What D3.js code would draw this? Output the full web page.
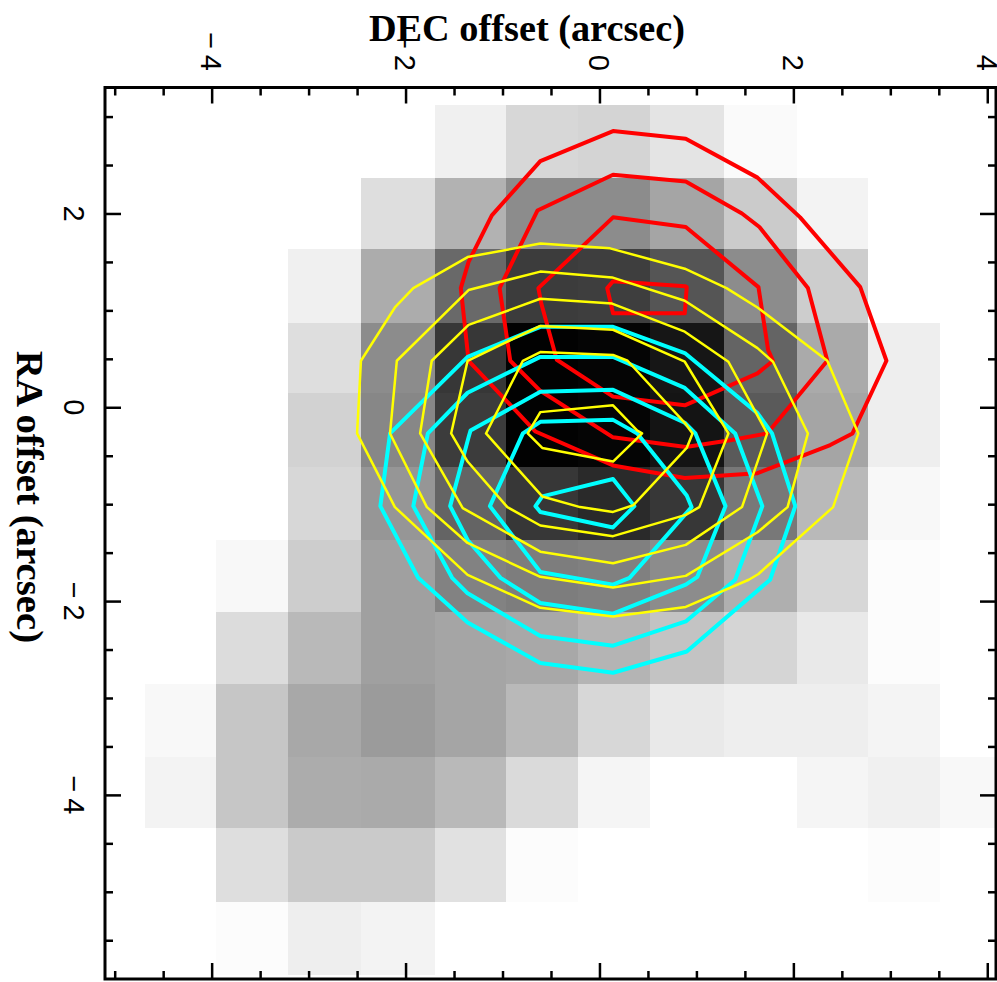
<!DOCTYPE html>
<html>
<head>
<meta charset="utf-8">
<script src="https://cdn.jsdelivr.net/npm/d3@7"></script>
<style>
  html, body { margin: 0; padding: 0; background: #fff; }
  svg { display: block; }
</style>
</head>
<body>
<svg width="997" height="982"></svg>
<script>
// image pixel edges, arcsec
var xEdges = [-4.69, -3.95, -3.21, -2.46, -1.70, -0.96, -0.22, 0.52, 1.28, 2.04, 2.77, 3.51, 4.25];
var yEdges = [3.12, 2.37, 1.63, 0.87, 0.15, -0.62, -1.37, -2.11, -2.86, -3.61, -4.34, -5.11, -5.86];

// image darkness, 0 = white, 255 = black, one row per yEdges step
var imageRows = [
  [0, 0, 0, 0, 15, 40, 43, 27, 5, 0, 0, 0],
  [0, 0, 0, 33, 77, 115, 115, 90, 52, 12, 0, 0],
  [0, 0, 15, 83, 150, 195, 193, 170, 115, 50, 0, 0],
  [0, 0, 33, 115, 200, 253, 250, 233, 155, 85, 17, 0],
  [0, 0, 45, 120, 195, 253, 250, 235, 165, 90, 17, 0],
  [0, 0, 40, 105, 155, 200, 213, 200, 135, 70, 7, 0],
  [0, 7, 50, 95, 125, 130, 127, 115, 80, 40, 3, 0],
  [0, 35, 70, 95, 90, 87, 75, 60, 42, 22, 3, 0],
  [7, 57, 87, 100, 90, 70, 40, 22, 17, 17, 11, 0],
  [12, 57, 83, 85, 70, 37, 10, 0, 0, 10, 15, 7],
  [0, 33, 53, 53, 30, 3, 0, 0, 0, 0, 3, 0],
  [0, 3, 17, 12, 0, 0, 0, 0, 0, 0, 0, 0]
];

var red1 = [[0.14,2.85],[0.89,2.77],[1.63,2.37],[2.07,1.96],[2.69,1.24],[2.96,0.48],[2.61,-0.27],[2.38,-0.39],[1.63,-0.68],[0.88,-0.73],[0.14,-0.60],[-0.66,-0.25],[-1.35,0.48],[-1.43,1.23],[-1.35,1.50],[-1.11,1.98],[-0.61,2.54]];
var red2 = [[0.14,2.40],[0.89,2.33],[1.47,2.00],[1.65,1.86],[2.15,1.23],[2.35,0.48],[1.73,-0.27],[1.35,-0.34],[0.89,-0.41],[0.14,-0.31],[-0.61,0.17],[-0.92,0.48],[-1.03,1.23],[-0.64,2.03]];
var red3 = [[0.14,1.96],[0.89,1.86],[1.64,1.24],[1.74,0.59],[1.79,0.48],[1.63,0.35],[0.88,0.02],[0.14,0.11],[-0.44,0.49],[-0.60,1.07],[-0.63,1.23]];
var red4 = [[0.14,1.30],[0.08,1.23],[0.14,0.97],[0.88,0.97],[0.90,1.24],[0.88,1.25]];

var cyan1 = [[0.14,0.83],[-0.61,0.83],[-1.36,0.52],[-2.16,-0.27],[-2.26,-1.02],[-1.87,-1.76],[-1.36,-2.22],[-0.61,-2.64],[0.14,-2.74],[0.90,-2.52],[1.76,-1.78],[2.02,-1.02],[1.78,-0.27],[1.63,-0.06],[0.88,0.56]];
var cyan2 = [[0.14,0.52],[-0.61,0.52],[-1.36,0.15],[-1.77,-0.27],[-1.92,-1.02],[-1.52,-1.76],[-1.36,-1.92],[-0.61,-2.36],[0.14,-2.46],[0.89,-2.21],[1.40,-1.78],[1.68,-1.02],[1.40,-0.27],[0.88,0.20]];
var cyan3 = [[0.14,0.18],[-0.61,0.16],[-1.33,-0.24],[-1.35,-0.31],[-1.54,-1.02],[-1.36,-1.37],[-1.02,-1.76],[-0.61,-2.02],[0.14,-2.13],[0.89,-1.83],[1.01,-1.75],[1.30,-1.02],[0.99,-0.27],[0.88,-0.16]];
var cyan4 = [[0.14,-0.13],[-0.61,-0.15],[-0.79,-0.27],[-1.13,-1.02],[-0.61,-1.70],[0.14,-1.83],[0.31,-1.76],[0.95,-1.03],[0.90,-0.91],[0.39,-0.27]];
var cyan5 = [[0.14,-0.74],[-0.59,-0.92],[-0.66,-1.02],[-0.61,-1.08],[0.14,-1.24],[0.36,-1.02]];

var yellow1 = [[-0.61,1.69],[0.11,1.64],[0.88,1.43],[1.31,1.23],[1.63,1.03],[2.35,0.48],[2.67,-0.27],[2.41,-1.03],[1.64,-1.72],[1.54,-1.78],[0.89,-2.06],[0.14,-2.16],[-0.61,-2.07],[-1.36,-1.73],[-2.11,-1.03],[-2.50,-0.27],[-2.46,0.48],[-2.11,1.03],[-1.92,1.23],[-1.36,1.55]];
var yellow2 = [[-0.61,1.40],[0.13,1.34],[0.88,1.10],[1.63,0.61],[1.79,0.47],[2.15,-0.27],[1.94,-1.03],[1.63,-1.29],[0.89,-1.74],[0.14,-1.86],[-0.61,-1.75],[-1.36,-1.40],[-1.78,-1.03],[-2.16,-0.27],[-2.09,0.48],[-1.35,1.21]];
var yellow3 = [[-0.61,1.12],[0.13,1.07],[0.88,0.78],[1.33,0.47],[1.73,-0.27],[1.47,-1.03],[0.89,-1.42],[0.14,-1.61],[-0.61,-1.49],[-1.41,-1.04],[-1.85,-0.27],[-1.73,0.48],[-1.35,0.85]];
var yellow4 = [[-0.61,0.84],[0.14,0.80],[0.88,0.47],[1.33,-0.27],[1.03,-1.03],[0.89,-1.11],[0.14,-1.33],[-0.61,-1.22],[-0.95,-1.03],[-1.36,-0.56],[-1.53,-0.27],[-1.36,0.48]];
var yellow5 = [[-0.61,0.57],[0.14,0.54],[0.29,0.48],[0.88,-0.16],[0.96,-0.27],[0.90,-0.42],[0.35,-1.01],[0.14,-1.08],[-0.20,-1.03],[-0.59,-0.92],[-1.17,-0.27],[-0.79,0.48]];
var yellow6 = [[-0.61,-0.05],[0.14,0.02],[0.39,-0.24],[0.44,-0.27],[0.14,-0.56],[-0.59,-0.42],[-0.74,-0.27]];

// red sits lowest, yellow on top
var contourSets = [
  {lines: [red1, red2, red3, red4], color: "#ff0000", width: 4},
  {lines: [cyan1, cyan2, cyan3, cyan4, cyan5], color: "#00ffff", width: 4},
  {lines: [yellow1, yellow2, yellow3, yellow4, yellow5, yellow6], color: "#ffff00", width: 2.5}
];

var xMajor = [-4, -2, 0, 2, 4];
var yMajor = [2, 0, -2, -4];
var xMinor = [-5, -4.5, -3.5, -3, -2.5, -1.5, -1, -0.5, 0.5, 1, 1.5, 2.5, 3, 3.5];
var yMinor = [3, 2.5, 1.5, 1, 0.5, -0.5, -1, -1.5, -2.5, -3, -3.5, -4.5, -5, -5.5];

var left = 105, right = 996, top_ = 87.5, bottom = 979;

var svg = d3.select("svg");
var x = d3.scaleLinear().domain([-5.10, 4.09]).range([left, right]);
var y = d3.scaleLinear().domain([3.30, -5.90]).range([top_, bottom]);
var grey = d3.scaleLinear().domain([0, 255]).range(["#ffffff", "#000000"]);

svg.append("defs").append("clipPath").attr("id", "plot")
  .append("rect")
    .attr("x", left).attr("y", top_)
    .attr("width", right - left).attr("height", bottom - top_);

var cells = [];
imageRows.forEach(function(row, r) {
  row.forEach(function(v, c) {
    if (v > 0) cells.push({r: r, c: c, v: v});
  });
});

svg.append("g")
    .attr("clip-path", "url(#plot)")
    .attr("shape-rendering", "crispEdges")
  .selectAll("rect")
  .data(cells)
  .enter().append("rect")
    .attr("x", d => x(xEdges[d.c]))
    .attr("y", d => y(yEdges[d.r]))
    .attr("width", d => x(xEdges[d.c + 1]) - x(xEdges[d.c]))
    .attr("height", d => y(yEdges[d.r + 1]) - y(yEdges[d.r]))
    .attr("fill", d => grey(d.v));

var line = d3.line()
  .x(d => x(d[0]))
  .y(d => y(d[1]))
  .curve(d3.curveLinearClosed);

contourSets.forEach(function(set) {
  svg.append("g")
      .attr("fill", "none")
      .attr("stroke", set.color)
      .attr("stroke-width", set.width)
      .attr("stroke-linejoin", "round")
    .selectAll("path")
    .data(set.lines)
    .enter().append("path")
      .attr("d", line);
});

// all ticks point inwards, so the sizes are negative
function drawTicks(axis, tx, ty, values, size) {
  var g = svg.append("g")
    .attr("transform", "translate(" + tx + "," + ty + ")")
    .call(axis.tickValues(values).tickSize(-size).tickFormat(""));
  g.select(".domain").remove();
  g.selectAll("line").attr("stroke", "#000").attr("stroke-width", 2.5);
  g.selectAll("text").remove();
}

drawTicks(d3.axisTop(x), 0, top_, xMajor, 16);
drawTicks(d3.axisTop(x), 0, top_, xMinor, 8);
drawTicks(d3.axisBottom(x), 0, bottom, xMajor, 16);
drawTicks(d3.axisBottom(x), 0, bottom, xMinor, 8);
drawTicks(d3.axisLeft(y), left, 0, yMajor, 16);
drawTicks(d3.axisLeft(y), left, 0, yMinor, 8);
drawTicks(d3.axisRight(y), right, 0, yMajor, 16);
drawTicks(d3.axisRight(y), right, 0, yMinor, 8);

svg.append("rect")
    .attr("x", left).attr("y", top_)
    .attr("width", right - left).attr("height", bottom - top_)
    .attr("fill", "none")
    .attr("stroke", "#000")
    .attr("stroke-width", 3);

function label(v) {
  return v < 0 ? "\u2212\u2009" + Math.abs(v) : String(v);
}

// tick labels read downwards
svg.append("g")
    .attr("font-family", "'Liberation Sans', sans-serif")
    .attr("font-size", 29)
    .attr("text-anchor", "end")
  .selectAll("text")
  .data(xMajor)
  .enter().append("text")
    .attr("transform", d => "translate(" + (x(d) - 10.5) + ",71) rotate(90)")
    .text(label);

svg.append("g")
    .attr("font-family", "'Liberation Sans', sans-serif")
    .attr("font-size", 29)
    .attr("text-anchor", "middle")
  .selectAll("text")
  .data(yMajor)
  .enter().append("text")
    .attr("transform", d => "translate(64," + y(d) + ") rotate(90)")
    .text(label);

svg.append("text")
    .attr("x", 527).attr("y", 41)
    .attr("text-anchor", "middle")
    .attr("font-family", "'Liberation Serif', serif")
    .attr("font-weight", "bold")
    .attr("font-size", 38.3)
    .text("DEC offset (arcsec)");

svg.append("text")
    .attr("transform", "translate(17,497) rotate(90)")
    .attr("text-anchor", "middle")
    .attr("font-family", "'Liberation Serif', serif")
    .attr("font-weight", "bold")
    .attr("font-size", 38.8)
    .text("RA offset (arcsec)");
</script>
</body>
</html>
